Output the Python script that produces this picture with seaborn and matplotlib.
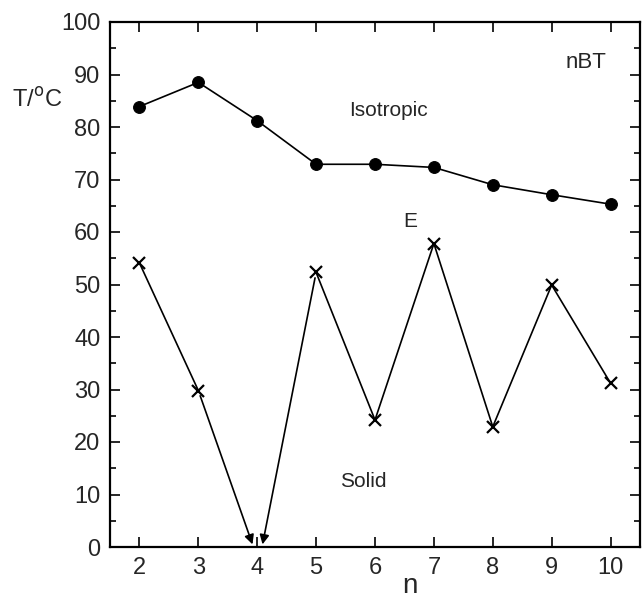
import matplotlib
import matplotlib.pyplot as plt
import pandas as pd
import seaborn as sns
from matplotlib.ticker import MultipleLocator

matplotlib.use("Agg")
sns.set_theme(style="ticks")
plt.rcParams["font.family"] = ["Liberation Sans", "DejaVu Sans"]

# clearing temperatures (isotropic transition), filled circles
N_ISO = [2, 3, 4, 5, 6, 7, 8, 9, 10]
T_ISO = [83.9, 88.5, 81.2, 72.9, 72.9, 72.3, 69.0, 67.1, 65.3]

# melting points (crosses), n = 4 has no value, shown by arrows
N_SOLID = [2, 3, 5, 6, 7, 8, 9, 10]
T_SOLID = [54.1, 29.8, 52.3, 24.2, 57.8, 22.9, 49.9, 31.2]
BRANCH = ["a", "a", "b", "b", "b", "b", "b", "b"]

# arrow ends near n = 4 on the axis
ARROW_TARGETS = [(3.92, 0.5), (4.09, 0.5)]

iso = pd.DataFrame({"n": N_ISO, "T": T_ISO})
solid = pd.DataFrame({"n": N_SOLID, "T": T_SOLID, "branch": BRANCH})

fig = plt.figure(figsize=(6.42, 6.02), dpi=100)
ax = fig.add_axes([110 / 642, 55 / 602, 530 / 642, 525 / 602])

sns.lineplot(
    data=iso, x="n", y="T", ax=ax, color="black", lw=1.2,
    marker="o", markersize=8.5, markeredgecolor="black", estimator=None,
)
sns.lineplot(
    data=solid, x="n", y="T", units="branch", estimator=None, ax=ax,
    color="black", lw=1.2, marker="x", markersize=8, markeredgewidth=1.6,
    markeredgecolor="black", markerfacecolor="black",
)

# arrows from n=3 and n=5 down to the axis
for (x0, y0), (x1, y1) in zip(
    [(N_SOLID[1], T_SOLID[1]), (N_SOLID[2], T_SOLID[2])], ARROW_TARGETS
):
    ax.annotate(
        "", xy=(x1, y1), xytext=(x0, y0),
        arrowprops=dict(arrowstyle="-|>", color="black", lw=1.2,
                        mutation_scale=14, shrinkA=4, shrinkB=0),
    )

ax.set_xlim(1.5, 10.5)
ax.set_ylim(0, 100)
ax.set_xticks(range(2, 11))
ax.yaxis.set_major_locator(MultipleLocator(10))
ax.yaxis.set_minor_locator(MultipleLocator(5))
ax.tick_params(which="major", direction="in", length=7, width=1.4,
               top=True, right=True, labelsize=17, pad=7)
ax.tick_params(which="minor", direction="in", length=4, width=1.4,
               right=True, left=True)
for spine in ax.spines.values():
    spine.set_linewidth(1.6)
    spine.set_color("black")
ax.set_xlabel("")
ax.set_ylabel("")

ax.text(6.22, 83.2, "Isotropic", fontsize=15, ha="center", va="center")
ax.text(6.6, 62.0, "E", fontsize=15, ha="center", va="center")
ax.text(5.8, 12.5, "Solid", fontsize=15, ha="center", va="center")
ax.text(9.58, 92.2, "nBT", fontsize=16, ha="center", va="center")

fig.text(37 / 642, 1 - 100 / 602, r"T/$^{\rm o}$C", fontsize=17,
         ha="center", va="center")
fig.text(410 / 642, 1 - 586 / 602, "n", fontsize=20, ha="center", va="center")

fig.savefig("out.png", dpi=100)
